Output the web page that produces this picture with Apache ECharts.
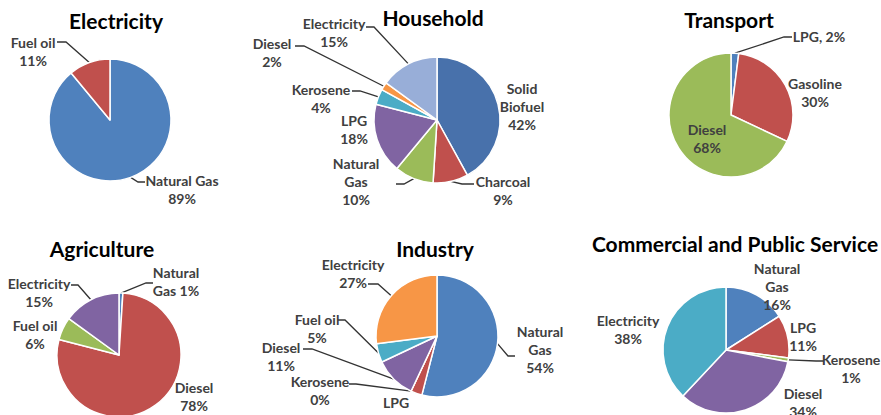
<!DOCTYPE html>
<html>
<head>
<meta charset="utf-8">
<script src="https://cdn.jsdelivr.net/npm/echarts@6/dist/echarts.min.js"></script>
<style>
  html, body { margin: 0; padding: 0; background: #fff; }
  #chart { width: 881px; height: 415px; }
</style>
</head>
<body>
<div id="chart"></div>
<script>
// Final energy consumption shares (%) by sector and fuel
const electricityFuels = ['Natural Gas', 'Fuel oil'];
const electricityShare = [89, 11];

const householdFuels = ['Solid Biofuel', 'Charcoal', 'Natural Gas', 'LPG', 'Kerosene', 'Diesel', 'Electricity'];
const householdShare = [42, 9, 10, 18, 4, 2, 15];

const transportFuels = ['LPG', 'Gasoline', 'Diesel'];
const transportShare = [2, 30, 68];

const agricultureFuels = ['Natural Gas', 'Diesel', 'Fuel oil', 'Electricity'];
const agricultureShare = [1, 78, 6, 15];

const industryFuels = ['Natural Gas', 'LPG', 'Kerosene', 'Diesel', 'Fuel oil', 'Electricity'];
const industryShare = [54, 3, 0, 11, 5, 27];

const commercialFuels = ['Natural Gas', 'LPG', 'Kerosene', 'Diesel', 'Electricity'];
const commercialShare = [16, 11, 1, 34, 38];

const C = {
  blue: '#4f81bd', red: '#c0504d', green: '#9bbb59', purple: '#8064a2',
  teal: '#4bacc6', orange: '#f79646', navy: '#4871ab', sky: '#98aed8'
};

// Per-pie layout: placement, colours and label boxes (centre of each text block).
// label: [cx, cy, lineBend, lineEnd, nameSep, pctSep]; no bend = no leader line
const pies = [
  {
    title: 'Electricity', titleAt: [116, 23], center: [110, 120], r: 61,
    names: electricityFuels, values: electricityShare, colors: [C.blue, C.red],
    labels: [
      [182, 189, [138, 182], [145, 182]],
      [33, 51, [66, 42], [57, 42]]
    ]
  },
  {
    title: 'Household', titleAt: [433, 20], center: [437, 120], r: 63,
    names: householdFuels, values: householdShare,
    colors: [C.navy, C.red, C.green, C.purple, C.teal, C.orange, C.sky],
    labels: [
      [522, 106, null, null, '\n'],
      [503, 190, [462, 184], [474, 184]],
      [356, 181, [404, 184], [396, 184], '\n'],
      [354, 129],
      [321, 98, [360, 91], [352, 91]],
      [272, 52, [304, 46], [295, 46]],
      [334, 32, [374, 27], [366, 27]]
    ]
  },
  {
    title: 'Transport', titleAt: [729, 22], center: [731, 115], r: 62,
    names: transportFuels, values: transportShare, colors: [C.blue, C.red, C.green],
    labels: [
      [819, 36, [784, 37], [792, 37], ' ', ', '],
      [815, 92],
      [707, 138]
    ]
  },
  {
    title: 'Agriculture', titleAt: [102, 251], center: [119, 355], r: 62,
    names: agricultureFuels, values: agricultureShare,
    colors: [C.blue, C.red, C.green, C.purple],
    labels: [
      [176, 281, [146, 283], [153, 283], '\n', ' '],
      [194, 396],
      [35, 334],
      [39, 292, [78, 285], [71, 285]]
    ]
  },
  {
    title: 'Industry', titleAt: [435, 251], center: [437, 336], r: 61,
    names: industryFuels, values: industryShare,
    colors: [C.blue, C.red, C.green, C.purple, C.teal, C.orange],
    labels: [
      [540, 349, [508, 356], [515, 356], '\n'],
      [396, 411],
      [320, 390, [356, 384], [349, 384]],
      [281, 356, [312, 349], [303, 349]],
      [317, 328, [345, 320], [338, 320]],
      [353, 273, [378, 284], [368, 284]]
    ]
  },
  {
    title: 'Commercial and Public Service', titleAt: [735, 246], center: [726, 350], r: 63,
    names: commercialFuels, values: commercialShare,
    colors: [C.blue, C.red, C.green, C.purple, C.teal],
    labels: [
      [777, 286, null, null, '\n'],
      [803, 336],
      [851, 368, [816, 361], [824, 361]],
      [803, 402],
      [628, 329]
    ]
  }
];

const FONT = 'Lato, "Liberation Sans", sans-serif';

const titles = pies.map(p => ({
  text: p.title,
  left: p.titleAt[0],
  top: p.titleAt[1] - 13,
  textAlign: 'center',
  padding: 0,
  textStyle: { fontFamily: FONT, fontSize: 21, fontWeight: 'bold', color: '#000' }
}));

// Point on the rim at the middle of slice i, from cumulative shares
function rimPoint(p, i) {
  const total = p.values.reduce((a, b) => a + b, 0);
  let before = 0;
  for (let k = 0; k < i; k++) before += p.values[k];
  const a = ((before + p.values[i] / 2) / total) * 2 * Math.PI;
  return [p.center[0] + p.r * Math.sin(a), p.center[1] - p.r * Math.cos(a)];
}

const series = pies.map(p => ({
  type: 'pie',
  center: p.center,
  radius: p.r,
  startAngle: 90,
  clockwise: true,
  animation: false,
  silent: true,
  avoidLabelOverlap: false,
  itemStyle: { borderColor: '#fff', borderWidth: 1.5 },
  label: {
    show: true,
    position: 'outside',
    fontFamily: FONT,
    fontSize: 14,
    fontWeight: 'bold',
    lineHeight: 18,
    color: '#404040',
    align: 'center'
  },
  labelLine: { show: true, lineStyle: { color: '#333', width: 1.3 } },
  data: p.names.map((n, i) => {
    const L = p.labels[i];
    const nameSep = L[4] || ' ';
    const pctSep = L[5] || '\n';
    return {
      name: n,
      value: p.values[i],
      itemStyle: { color: p.colors[i] },
      label: { formatter: n.split(' ').join(nameSep) + pctSep + p.values[i] + '%' },
      labelLine: { show: !!L[2] }
    };
  }),
  labelLayout: params => {
    const L = p.labels[params.dataIndex];
    const out = { x: L[0], y: L[1], align: 'center', verticalAlign: 'middle' };
    if (L[2]) out.labelLinePoints = [rimPoint(p, params.dataIndex), L[2], L[3]];
    return out;
  }
}));

const chart = echarts.init(document.getElementById('chart'), null, { renderer: 'svg' });
chart.setOption({
  backgroundColor: '#fff',
  animation: false,
  title: titles,
  series: series
});
</script>
</body>
</html>
